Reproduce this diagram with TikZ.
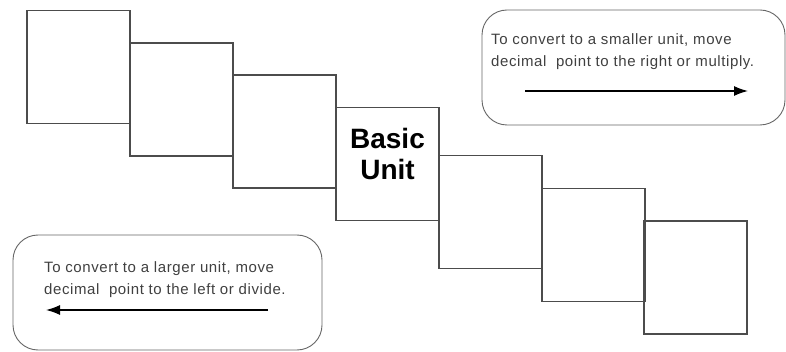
\documentclass[tikz,border=0pt]{standalone}
\usepackage{fontspec}
\setmainfont{Liberation Sans}
\newfontfamily\notefont[LetterSpace=4]{Liberation Sans}
\usetikzlibrary{arrows.meta}

\tikzset{
  unitbox/.style={draw=black!70, line width=1.2pt, minimum width=103pt, minimum height=113pt, inner sep=0pt},
  notebox/.style={draw=black!60, line width=0.9pt, rounded corners=25pt, minimum width=305pt, minimum height=115pt, inner sep=0pt},
  notetext/.style={font=\notefont\fontsize{15}{22}\selectfont, text=black!75, align=left, inner sep=0pt},
  movearrow/.style={line width=1.4pt, -{Latex[length=14pt,width=10pt]}}
}

\begin{document}
\begin{tikzpicture}[x=1pt, y=-1pt] % one unit per pixel of the sketch, y going down

	\useasboundingbox (0,0) rectangle (786,352);

	\node[unitbox] (b1) at (78.5,67) {};
	\node[unitbox] (b2) at (181.5,99.5) {};
	\node[unitbox] (b3) at (284.5,131.5) {};
	\node[unitbox] (b4) at (387.5,164) {};
	\node[unitbox] (b5) at (490.5,212) {};
	\node[unitbox] (b6) at (593.5,245) {};
	\node[unitbox] (b7) at (695.5,277.5) {};

	\node[font=\fontsize{28}{31}\selectfont\bfseries, align=center, inner sep=0pt] (basic) at ([yshift=10pt]b4.center) {Basic\\Unit};

	\node[notebox, minimum width=303pt] (smaller) at (633.5,67.5) {};
	\node[notetext, anchor=west] (smallertext) at (491,52) {To convert to a smaller unit, move\\decimal~ point to the right or multiply.};
	\coordinate (r1) at (525,91);
	\coordinate (r2) at (748,91);
	\draw[movearrow] (r1) -- (r2);

	\node[notebox, minimum width=309pt] (larger) at (167.5,292.5) {};
	\node[notetext, anchor=west] (largertext) at (44,280) {To convert to a larger unit, move\\decimal~ point to the left or divide.};
	\coordinate (l1) at (268,310);
	\coordinate (l2) at (46,310);
	\draw[movearrow] (l1) -- (l2);

\end{tikzpicture}
\end{document}
